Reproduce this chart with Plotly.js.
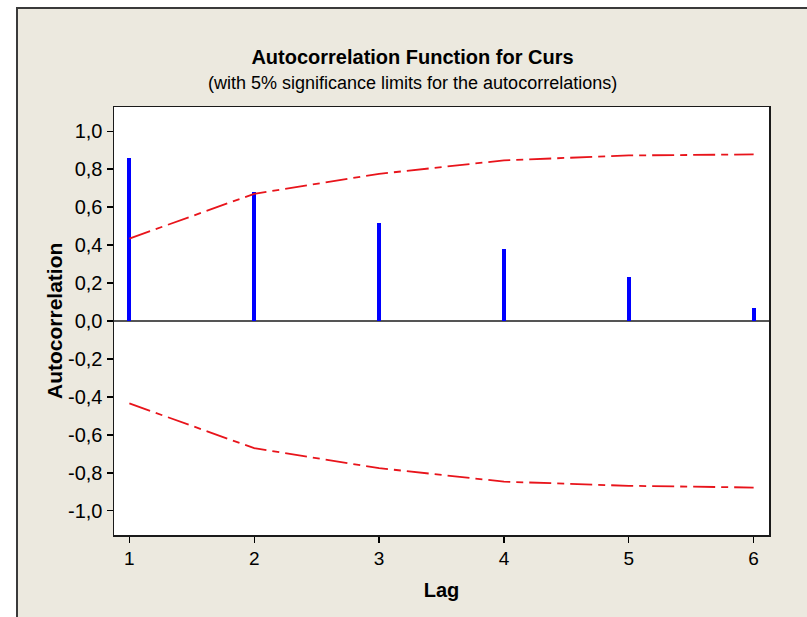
<!DOCTYPE html>
<html>
<head>
<meta charset="utf-8">
<script src="https://cdn.plot.ly/plotly-3.0.1.min.js"></script>
<style>
  html, body { margin: 0; padding: 0; background: #ffffff; width: 807px; height: 617px; overflow: hidden; }
  #frame { position: absolute; left: 16px; top: 7px; width: 791px; height: 610px; border-left: 2px solid #3a3a3a; border-top: 2px solid #3a3a3a; box-sizing: border-box; background: #ece9df; }
  #chart { width: 789px; height: 608px; }
</style>
</head>
<body>
<div id="frame"><div id="chart"></div></div>
<script>
const lags = [1, 2, 3, 4, 5, 6];
const acf = [0.86, 0.679, 0.516, 0.381, 0.23, 0.068];
const upperLimit = [0.434, 0.67, 0.775, 0.846, 0.872, 0.877];
const lowerLimit = [-0.434, -0.67, -0.775, -0.846, -0.868, -0.877];
const yTickVals = [-1.0, -0.8, -0.6, -0.4, -0.2, 0.0, 0.2, 0.4, 0.6, 0.8, 1.0];
const yTickText = ["-1,0", "-0,8", "-0,6", "-0,4", "-0,2", "0,0", "0,2", "0,4", "0,6", "0,8", "1,0"];
const xTickVals = [1, 2, 3, 4, 5, 6];

const sans = "'Liberation Sans', Arial, sans-serif";
const limitStyle = { color: '#e8141b', width: 1.8, dash: '22px,6px,7px,6px' };

const traces = [
  { type: 'bar', x: lags, y: acf, width: 0.034, marker: { color: '#0000ff', line: { width: 0 } }, hoverinfo: 'x+y' },
  { type: 'scatter', mode: 'lines', x: lags, y: upperLimit, line: limitStyle },
  { type: 'scatter', mode: 'lines', x: lags, y: lowerLimit, line: limitStyle }
];

const layout = {
  width: 789, height: 608,
  margin: { l: 96, r: 38, t: 98, b: 82 },
  paper_bgcolor: '#ece9df',
  plot_bgcolor: '#ffffff',
  showlegend: false,
  title: {
    text: '<b>Autocorrelation Function for Curs</b>',
    font: { family: sans, size: 20, color: '#000000' },
    x: 0.5, xanchor: 'center', xref: 'container',
    y: 1 - 48 / 608, yanchor: 'middle', yref: 'container'
  },
  annotations: [{
    text: '(with 5% significance limits for the autocorrelations)',
    xref: 'paper', yref: 'paper', x: 298 / 655, y: 1 + 24 / 428,
    xanchor: 'center', yanchor: 'middle', showarrow: false,
    font: { family: sans, size: 18, color: '#000000' }
  }, {
    text: '<b>Autocorrelation</b>',
    xref: 'paper', yref: 'paper', x: -60 / 655, y: 0.5 - 0 / 428,
    xanchor: 'center', yanchor: 'middle', textangle: -90, showarrow: false,
    font: { family: sans, size: 21, color: '#000000' }
  }],
  xaxis: {
    range: [0.877, 6.123],
    tickmode: 'array', tickvals: xTickVals,
    ticks: 'outside', ticklen: 6, tickcolor: '#000', tickwidth: 1.2,
    tickfont: { family: sans, size: 19, color: '#000' },
    showgrid: false, zeroline: false,
    showline: true, mirror: true, linecolor: '#1a1a1a', linewidth: 1.5,
    title: { text: '<b>Lag</b>', font: { family: sans, size: 20, color: '#000' }, standoff: 14 }
  },
  yaxis: {
    range: [-1.127, 1.127],
    tickmode: 'array', tickvals: yTickVals, ticktext: yTickText,
    ticks: 'outside', ticklen: 6, tickcolor: '#000', tickwidth: 1.2,
    tickfont: { family: sans, size: 20, color: '#000' },
    showgrid: false,
    zeroline: true, zerolinecolor: '#555555', zerolinewidth: 1.5,
    showline: true, mirror: true, linecolor: '#1a1a1a', linewidth: 1.5
  },
  bargap: 0
};

Plotly.newPlot('chart', traces, layout, { displayModeBar: false, staticPlot: true });
</script>
</body>
</html>
